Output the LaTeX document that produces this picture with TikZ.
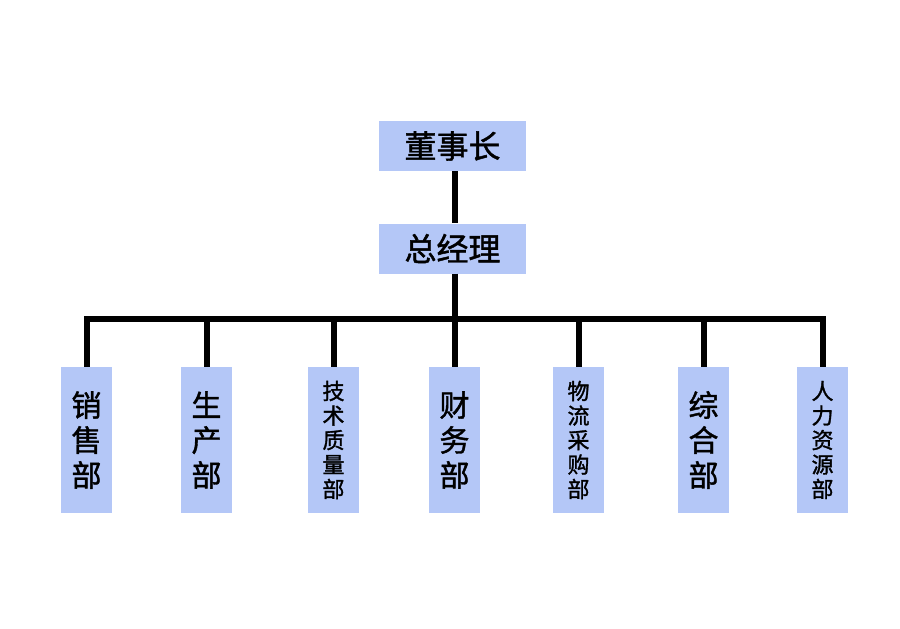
\documentclass[tikz,border=0pt]{standalone}
\usepackage{fontspec}
\newfontfamily\cjk{Noto Sans CJK SC}[AutoFakeBold=1.4]
\definecolor{boxblue}{RGB}{180,199,247}
\tikzset{
  topbox/.style={fill=boxblue, draw=none, minimum width=147pt, minimum height=50pt, inner sep=0pt, font=\cjk\bfseries\fontsize{32}{32}\selectfont},
  deptbig/.style={fill=boxblue, draw=none, minimum width=51pt, minimum height=146pt, inner sep=0pt, align=center, font=\cjk\bfseries\fontsize{30}{35}\selectfont},
  deptsmall/.style={fill=boxblue, draw=none, minimum width=51pt, minimum height=146pt, inner sep=0pt, align=center, font=\cjk\bfseries\fontsize{22}{24.5}\selectfont},
  link/.style={line width=6pt, black, line join=miter}
}
\begin{document}
\begin{tikzpicture}[x=1pt,y=-1pt]
\useasboundingbox (0,0) rectangle (900,629);
\node[topbox] (ceo) at (452.5,146) {董事长};
\node[topbox] (gm) at (452.5,248.5) {总经理};
\node[deptbig] (d1) at (86.5,440) {销\\售\\部};
\node[deptbig] (d2) at (206.5,440) {生\\产\\部};
\node[deptsmall] (d3) at (333.5,440) {技\\术\\质\\量\\部};
\node[deptbig] (d4) at (454.5,440) {财\\务\\部};
\node[deptsmall] (d5) at (578.5,440) {物\\流\\采\\购\\部};
\node[deptbig] (d6) at (703.5,440) {综\\合\\部};
\node[deptsmall] (d7) at (822.5,440) {人\\力\\资\\源\\部};
\coordinate (bar) at (455,318.5);
\draw[link] (ceo.south -| bar) -- (gm.north -| bar);
\draw[link] (gm.south -| bar) -- (bar);
\draw[link] (d1.north) -- (d1.north |- bar) -- (d7.north |- bar) -- (d7.north);
\foreach \d in {d2,d3,d4,d5,d6} {
  \draw[link] (\d.north |- bar) -- (\d.north);
}
\end{tikzpicture}
\end{document}
